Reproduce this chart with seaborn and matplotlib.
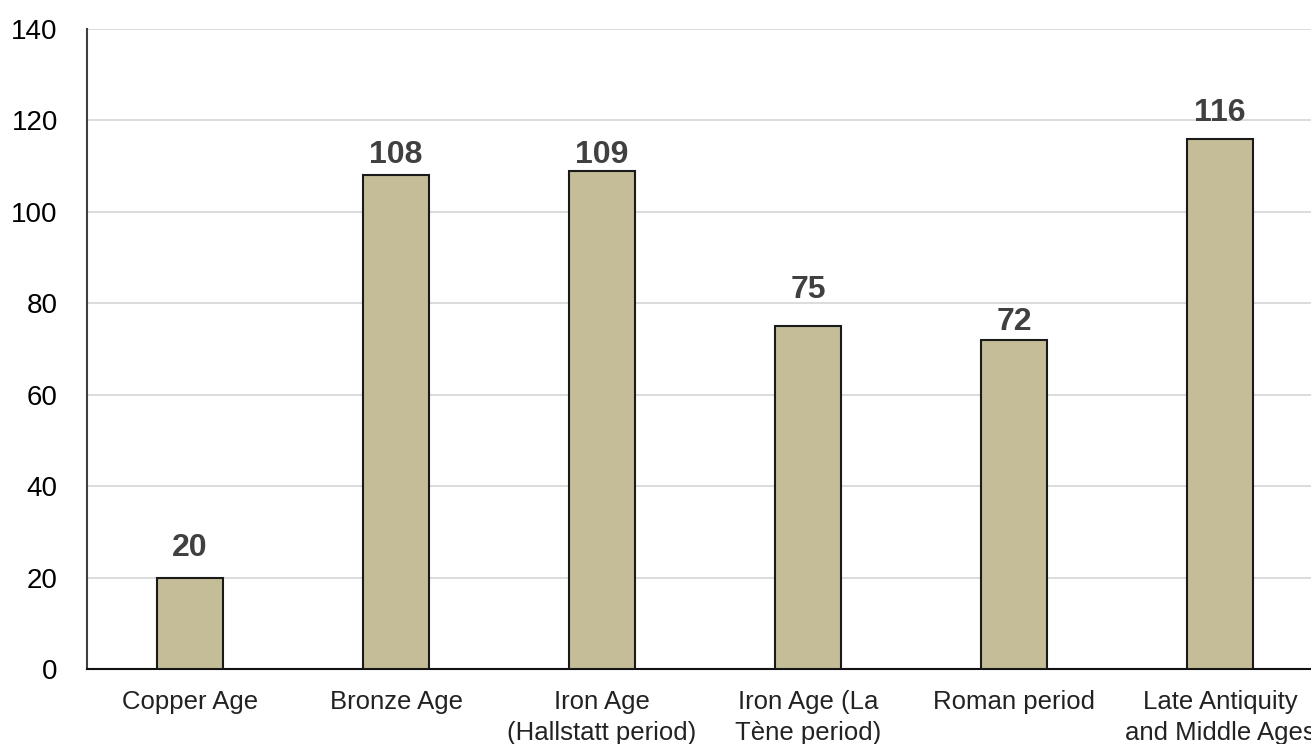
import matplotlib
matplotlib.use("Agg")
import matplotlib.pyplot as plt
import seaborn as sns
import pandas as pd

periods = [
    "Copper Age",
    "Bronze Age",
    "Iron Age\n(Hallstatt period)",
    "Iron Age (La\nTène period)",
    "Roman period",
    "Late Antiquity\nand Middle Ages",
]
counts = [20, 108, 109, 75, 72, 116]
y_ticks = [0, 20, 40, 60, 80, 100, 120, 140]

# gap (pixels) between each bar top and its value label
label_gaps = [22, 12, 8, 28, 10, 18]

df = pd.DataFrame({"period": periods, "count": counts})

sns.set_theme(style="white")
plt.rcParams["font.family"] = ["Liberation Sans", "DejaVu Sans"]

W, H = 1311, 744
fig = plt.figure(figsize=(W / 100, H / 100), dpi=100)
ax = fig.add_axes([87 / W, 75 / H, 1236 / W, 640 / H])

sns.barplot(data=df, x="period", y="count", ax=ax, color="#C4BD97",
            width=0.32, edgecolor="#1a1a1a", linewidth=1.5, saturation=1,
            zorder=3)

ax.set_xlim(-0.5, 5.5)
ax.set_ylim(0, 140)
ax.set_yticks(y_ticks)
ax.set_yticklabels([str(v) for v in y_ticks], fontsize=20, color="black")
ax.yaxis.grid(True, color="#d9d9d9", linewidth=1.3, zorder=0)
ax.xaxis.grid(False)
ax.tick_params(axis="y", length=0, pad=21)
ax.tick_params(axis="x", length=0, pad=15, labelsize=18.5, labelcolor="#222222")
for lbl in ax.get_xticklabels():
    lbl.set_linespacing(1.4)
ax.set_xlabel("")
ax.set_ylabel("")

for side in ["top", "right"]:
    ax.spines[side].set_visible(False)
ax.spines["left"].set_color("#404040")
ax.spines["left"].set_linewidth(1.5)
ax.spines["bottom"].set_color("#111111")
ax.spines["bottom"].set_linewidth(1.5)

for i, (v, gap) in enumerate(zip(counts, label_gaps)):
    ax.annotate(str(v), (i, v), xytext=(0, gap), textcoords="offset pixels",
                ha="center", va="baseline", fontsize=23, fontweight="bold",
                color="#404040")

fig.savefig("out.png", dpi=100)
